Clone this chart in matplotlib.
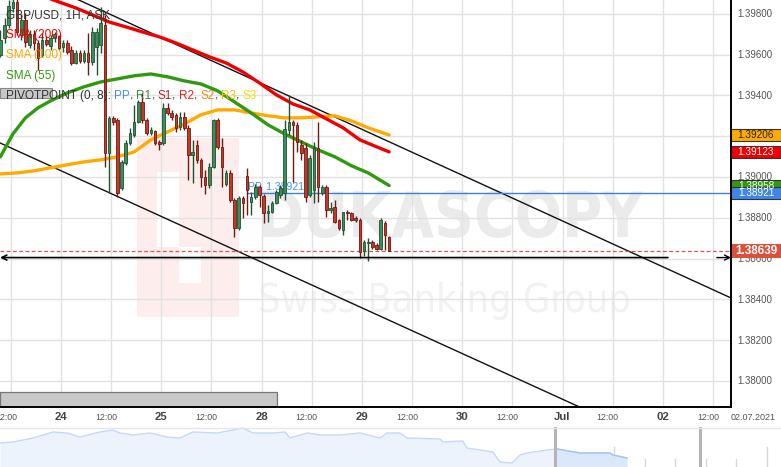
import numpy as np
import matplotlib
matplotlib.use("Agg")
import matplotlib.pyplot as plt
from matplotlib.patches import Rectangle
from matplotlib.transforms import blended_transform_factory, Affine2D
from matplotlib import font_manager

plt.rcParams['font.family'] = ['Liberation Sans', 'DejaVu Sans']

# ---------------- data ----------------
# hourly candles, GBP/USD 1H ASK; hour axis counted from 24 Jun 00:00 with weekend removed
first_candle_hour = -14.5

opens = [
    1.39599, 1.39682, 1.39746, 1.39829, 1.39858, 1.39697, 1.39770, 1.39648, 1.39701, 1.39657,
    1.39599, 1.39672, 1.39643, 1.39682, 1.39692, 1.39638, 1.39657, 1.39623, 1.39559, 1.39608,
    1.39569, 1.39608, 1.39564, 1.39638, 1.39648,
    1.39746, 1.39118, 1.39290, 1.39280, 1.38947, 1.39069, 1.39167, 1.39207, 1.39270, 1.39368,
    1.39280, 1.39216, 1.39226, 1.39172, 1.39167, 1.39339, 1.39314, 1.39305, 1.39246, 1.39295,
    1.39241, 1.39109, 1.39158, 1.39084, 1.39001, 1.38962, 1.39050, 1.39280, 1.39148, 1.38966,
    1.39020, 1.38888, 1.38751, 1.38898, 1.39006, 1.38878, 1.38903, 1.38952, 1.38908, 1.38824,
    1.38829, 1.38873, 1.38912, 1.38922, 1.39231, 1.39270, 1.39256, 1.39158, 1.39143, 1.38912,
    1.38937, 1.39143, 1.38922, 1.38952, 1.38839, 1.38854, 1.38790, 1.38741, 1.38829, 1.38824,
    1.38800, 1.38790, 1.38638, 1.38677, 1.38682, 1.38668, 1.38648, 1.38775, 1.38707]
highs = [
    1.39721, 1.39780, 1.39868, 1.39880, 1.39880, 1.39799, 1.39804, 1.39721, 1.39721, 1.39672,
    1.39706, 1.39692, 1.39697, 1.39711, 1.39697, 1.39672, 1.39672, 1.39643, 1.39623, 1.39623,
    1.39623, 1.39706, 1.39736, 1.39731, 1.39834,
    1.39795, 1.39300, 1.39300, 1.39290, 1.39084, 1.39182, 1.39241, 1.39354, 1.39378, 1.39412,
    1.39290, 1.39246, 1.39231, 1.39182, 1.39363, 1.39363, 1.39329, 1.39314, 1.39319, 1.39319,
    1.39256, 1.39182, 1.39182, 1.39094, 1.39035, 1.39069, 1.39285, 1.39290, 1.39192, 1.39035,
    1.39035, 1.38898, 1.38908, 1.38908, 1.39045, 1.38927, 1.38966, 1.38962, 1.38917, 1.38864,
    1.38883, 1.38937, 1.38962, 1.39280, 1.39403, 1.39280, 1.39270, 1.39182, 1.39167, 1.39109,
    1.39172, 1.39270, 1.38962, 1.38962, 1.38878, 1.38888, 1.38795, 1.38829, 1.38839, 1.38829,
    1.38810, 1.38800, 1.38692, 1.38702, 1.38692, 1.38677, 1.38800, 1.38785, 1.38712]
lows = [
    1.39589, 1.39657, 1.39731, 1.39809, 1.39697, 1.39672, 1.39638, 1.39633, 1.39623, 1.39525,
    1.39589, 1.39643, 1.39623, 1.39662, 1.39623, 1.39613, 1.39603, 1.39550, 1.39554, 1.39559,
    1.39559, 1.39501, 1.39550, 1.39501, 1.39608,
    1.39050, 1.38922, 1.39256, 1.38903, 1.38937, 1.39060, 1.39158, 1.39197, 1.39265, 1.39265,
    1.39207, 1.39207, 1.39158, 1.39133, 1.39158, 1.39305, 1.39280, 1.39221, 1.39231, 1.39231,
    1.38986, 1.38971, 1.39069, 1.38952, 1.38917, 1.38947, 1.39045, 1.39138, 1.38952, 1.38957,
    1.38878, 1.38707, 1.38741, 1.38800, 1.38815, 1.38815, 1.38893, 1.38854, 1.38775, 1.38780,
    1.38824, 1.38868, 1.38898, 1.38888, 1.39207, 1.38976, 1.39123, 1.39084, 1.38878, 1.38903,
    1.38873, 1.38878, 1.38912, 1.38805, 1.38824, 1.38775, 1.38741, 1.38717, 1.38790, 1.38785,
    1.38780, 1.38604, 1.38614, 1.38589, 1.38648, 1.38643, 1.38643, 1.38643, 1.38638]
closes = [
    1.39672, 1.39746, 1.39839, 1.39858, 1.39711, 1.39770, 1.39662, 1.39701, 1.39657, 1.39584,
    1.39672, 1.39652, 1.39682, 1.39701, 1.39633, 1.39657, 1.39613, 1.39559, 1.39608, 1.39569,
    1.39608, 1.39564, 1.39711, 1.39711, 1.39755,
    1.39118, 1.39290, 1.39270, 1.38922, 1.39074, 1.39167, 1.39216, 1.39270, 1.39368, 1.39280,
    1.39216, 1.39231, 1.39167, 1.39162, 1.39339, 1.39314, 1.39295, 1.39241, 1.39295, 1.39241,
    1.39109, 1.39123, 1.39084, 1.39001, 1.38962, 1.39050, 1.39280, 1.39148, 1.39050, 1.39020,
    1.38888, 1.38751, 1.38898, 1.38873, 1.38937, 1.38903, 1.38952, 1.38912, 1.38824, 1.38834,
    1.38873, 1.38927, 1.38947, 1.39236, 1.39270, 1.39256, 1.39172, 1.39118, 1.38903, 1.39094,
    1.39143, 1.38952, 1.38952, 1.38839, 1.38849, 1.38780, 1.38751, 1.38829, 1.38824, 1.38790,
    1.38790, 1.38633, 1.38682, 1.38682, 1.38658, 1.38648, 1.38790, 1.38717, 1.38639]

# moving averages (value read at candle index)
sma200_idx = [12, 14, 18, 22, 26, 30, 34, 38, 42, 46, 50, 54, 58, 62, 66, 70, 74, 78, 82, 86, 90, 93]
sma200 = [1.39873, 1.39858, 1.39829, 1.39795, 1.39760, 1.39736, 1.39711, 1.39687, 1.39657, 1.39623,
          1.39589, 1.39559, 1.39515, 1.39461, 1.39403, 1.39358, 1.39329, 1.39285, 1.39241, 1.39182,
          1.39148, 1.39123]
sma100_idx = [0, 4, 8, 12, 16, 20, 24, 28, 32, 36, 40, 44, 48, 52, 56, 60, 64, 68, 72, 76, 80, 84, 88, 93]
sma100 = [1.39015, 1.39020, 1.39030, 1.39045, 1.39060, 1.39074, 1.39084, 1.39099, 1.39123, 1.39182,
          1.39221, 1.39260, 1.39305, 1.39329, 1.39329, 1.39314, 1.39300, 1.39290, 1.39290, 1.39295,
          1.39300, 1.39275, 1.39241, 1.39206]
sma55_idx = [0, 3, 6, 9, 12, 16, 20, 24, 28, 32, 36, 40, 44, 48, 52, 56, 60, 64, 68, 72, 76, 80, 84, 88, 93]
sma55 = [1.39099, 1.39211, 1.39290, 1.39339, 1.39373, 1.39412, 1.39442, 1.39466, 1.39481, 1.39496,
         1.39505, 1.39491, 1.39471, 1.39456, 1.39422, 1.39368, 1.39314, 1.39256, 1.39211, 1.39172,
         1.39133, 1.39099, 1.39055, 1.39020, 1.38958]

pivot_pp = 1.38921
pp_start_hour = 44.5
last_price = 1.38639
arrow_level = 1.38605
arrow_left_span = [-14.6, 145.2]
arrow_right_span = [156.9, 160.3]
channel_upper_h = [4.0, 160.3]
channel_upper_p = [1.39870, 1.38407]
channel_lower_h = [-14.6, 124.0]
channel_lower_p = [1.39167, 1.37873]
weekend_bar_h = [-14.6, 51.7]

price_tags = [  # value, box colour, text colour
    (1.39206, '#ffaa00', '#222222'),
    (1.39123, '#f00000', '#ffffff'),
    (1.38958, '#2f9a0f', '#ffffff'),
    (1.38921, '#3f86e8', '#ffffff'),
]

xtick_hours = [-12, 0, 12, 24, 36, 48, 60, 72, 84, 96, 108, 120, 132, 144, 156]
xtick_labels = ['12:00', '24', '12:00', '25', '12:00', '28', '12:00', '29', '12:00', '30',
                '12:00', 'Jul', '12:00', '02', '12:00']
ytick_values = [1.380, 1.382, 1.384, 1.386, 1.388, 1.390, 1.392, 1.394, 1.396, 1.398]
ytick_labels = ['1.38000', '1.38200', '1.38400', '1.38600', '1.38800', '1.39000', '1.39200',
                '1.39400', '1.39600', '1.39800']
date_label = '02.07.2021'

nav_x = [0, 13, 33, 53, 67, 80, 100, 113, 120, 133, 150, 167, 180, 193, 217, 233, 243, 253, 273, 285,
         290, 307, 320, 340, 360, 380, 387, 400, 407, 440, 443, 463, 467, 480, 493, 500, 512, 520, 527, 547,
         557, 580, 610, 613, 627]
nav_h = [24, 25, 29, 35, 34, 30, 35, 37, 34, 32, 34, 30, 29, 35, 34, 37, 39, 34, 34, 35,
         29, 34, 32, 32, 34, 29, 34, 34, 29, 28, 25, 26, 19, 17, 15, 5, 4, 12, 14, 17,
         18, 14, 14, 12, 9]
nav_split = 555
nav_separators = [555, 700]

# ---------------- figure ----------------
W, H = 781, 467
fig = plt.figure(figsize=(W / 100, H / 100), dpi=100)
fig.patch.set_facecolor('white')
pix = Affine2D().scale(1, -1).translate(0, H)   # pixel coords, origin top-left

ax = fig.add_axes([0, 60 / H, 731 / W, 407 / H])
ax.set_xlim(-14.59, 160.29)
ax.set_ylim(1.378725, 1.398676)
ax.set_facecolor('white')
for s in ['top', 'left']:
    ax.spines[s].set_visible(False)
for s in ['right', 'bottom']:
    ax.spines[s].set_color('black')
    ax.spines[s].set_linewidth(1.4)
    ax.spines[s].set_zorder(20)
ax.set_xticks([])
ax.set_yticks([])

# grid
for v in ytick_values:
    ax.axhline(v, color='#e2e2e2', lw=1, zorder=1)
for hh in xtick_hours:
    ax.axvline(hh, color='#e2e2e2', lw=1, zorder=1)

# watermark logo (pink) and text
ax.add_patch(Rectangle((137, 138), 102, 179, transform=pix, facecolor='#fdeded', edgecolor='none', zorder=0.3, clip_on=False))
ax.add_patch(Rectangle((157, 172), 22, 75, transform=pix, facecolor='white', edgecolor='none', zorder=0.31, clip_on=False))
ax.add_patch(Rectangle((179, 247), 22, 36, transform=pix, facecolor='white', edgecolor='none', zorder=0.31, clip_on=False))

names = {f.name for f in font_manager.fontManager.ttflist}
wm_family = ['Liberation Sans Narrow', 'DejaVu Sans'] if 'Liberation Sans Narrow' in names else ['DejaVu Sans']
renderer = fig.canvas.get_renderer()


def fit_width(t, target):
    w = t.get_window_extent(renderer).width
    t.set_fontsize(t.get_fontsize() * target / w)


t1 = ax.text(258, 237, 'DUKASCOPY', transform=pix, fontsize=60, fontweight='bold', color='#ebebeb',
             family=wm_family, fontstretch='condensed', ha='left', va='baseline', zorder=0.5, clip_on=False)
fit_width(t1, 386)
t2 = ax.text(258, 312, 'Swiss Banking Group', transform=pix, fontsize=40, color='#f2f2f2',
             family=wm_family, fontstretch='condensed', ha='left', va='baseline', zorder=0.5, clip_on=False)
fit_width(t2, 372)

# weekend / session bar
bt = blended_transform_factory(ax.transData, ax.transAxes)
ax.add_patch(Rectangle((weekend_bar_h[0], 0), weekend_bar_h[1] - weekend_bar_h[0], 15 / 407, transform=bt,
                       facecolor='#c8c8c8', edgecolor='#777777', lw=0.9, zorder=2))

# channel lines
ax.plot(channel_upper_h, channel_upper_p, color='#111111', lw=1.0, zorder=3)
ax.plot(channel_lower_h, channel_lower_p, color='#111111', lw=1.0, zorder=3)

# pivot point
ax.plot([pp_start_hour, 160.3], [pivot_pp, pivot_pp], color='#3f7fe0', lw=1.0, zorder=3)
ax.text(pp_start_hour + 0.3, pivot_pp + 0.00008, 'PP, 1.38921', color='#4a8fe7', fontsize=7.5,
        va='bottom', ha='left', zorder=3.2)

# current price dashed
ax.axhline(last_price, color='#d9534f', lw=0.9, ls=(0, (3, 2)), zorder=3.5)

# arrow line
ax.annotate('', xy=(arrow_left_span[0], arrow_level), xytext=(arrow_left_span[1], arrow_level),
            arrowprops=dict(arrowstyle='->', color='black', lw=1.2, shrinkA=0, shrinkB=0, mutation_scale=9),
            zorder=6, annotation_clip=False)
ax.annotate('', xy=(arrow_right_span[1], arrow_level), xytext=(arrow_right_span[0], arrow_level),
            arrowprops=dict(arrowstyle='->', color='black', lw=1.0, shrinkA=0, shrinkB=0, mutation_scale=9),
            zorder=6, annotation_clip=False)

# moving averages
first = first_candle_hour
ax.plot(first + np.array(sma100_idx), sma100, color='#ffaa00', lw=2.4, zorder=4, solid_capstyle='round')
ax.plot(first + np.array(sma200_idx), sma200, color='#f00000', lw=2.4, zorder=4, solid_capstyle='round')
ax.plot(first + np.array(sma55_idx), sma55, color='#2f9a0f', lw=2.4, zorder=4, solid_capstyle='round')

# candles
o = np.array(opens); c = np.array(closes); hi = np.array(highs); lo = np.array(lows)
x = first + np.arange(len(o))
up = c >= o
wick_col = np.where(up, '#1f5230', '#6e1a12')
body_col = np.where(up, '#3d8c5c', '#c23b2a')
ax.vlines(x, lo, hi, colors=wick_col, lw=1.0, zorder=5)
ax.bar(x, np.maximum(np.abs(c - o), 0.00003), bottom=np.minimum(o, c), width=0.62,
       color=body_col, edgecolor=wick_col, linewidth=0.6, zorder=5.5)

# right axis labels
for v, lab in zip(ytick_values, ytick_labels):
    ax.text(737, 381 - (v - 1.38) * 20400 + 0.5, lab, transform=pix, fontsize=7, color='#555555',
            ha='left', va='center', clip_on=False, zorder=10)

bf = blended_transform_factory(fig.transFigure, ax.transData)
box_h = 12 / 20400
for v, fc, tc in price_tags:
    ax.add_patch(Rectangle((731 / W, v - box_h / 2), 50 / W, box_h, transform=bf, facecolor=fc,
                           edgecolor='#333333', lw=0.8, clip_on=False, zorder=11))
    ax.text(756 / W, v, f'{v:.5f}', transform=bf, fontsize=7.2, color=tc, ha='center', va='center',
            clip_on=False, zorder=12)
cur_h = 14 / 20400
ax.add_patch(Rectangle((731 / W, last_price - cur_h / 2), 50 / W, cur_h, transform=bf, facecolor='#dc503c',
                       edgecolor='none', clip_on=False, zorder=13))
ax.text(756 / W, last_price, f'{last_price:.5f}', transform=bf, fontsize=8.4, fontweight='bold',
        color='white', ha='center', va='center', clip_on=False, zorder=14)

# bottom time labels (half-day labels sit slightly left of their grid line, as in the source)
for hh, lab in zip(xtick_hours, xtick_labels):
    big = lab != '12:00'
    ax.text(hh if big else hh - 1.2, -10 / 407, lab, transform=bt, fontsize=8.2 if big else 6.3,
            fontweight='bold' if big else 'normal', color='#444444' if big else '#555555',
            ha='center', va='center', clip_on=False)
ax.text(753, 417, date_label, transform=pix, fontsize=6.5, color='#555555', ha='center', va='center',
        clip_on=False)

# legend block
fig.text(6 / W, 1 - 15 / H, 'GBP/USD, 1H, ASK', fontsize=8.5, color='#333333', va='center', ha='left', zorder=30)
fig.text(6 / W, 1 - 35 / H, 'SMA (200)', fontsize=8.5, color='#f00000', va='center', ha='left', zorder=30)
fig.text(6 / W, 1 - 55 / H, 'SMA (100)', fontsize=8.5, color='#ffaa00', va='center', ha='left', zorder=30)
fig.text(6 / W, 1 - 76 / H, 'SMA (55)', fontsize=8.5, color='#2f9a0f', va='center', ha='left', zorder=30)
fig.patches.append(Rectangle((0, 1 - 98 / H), 52 / W, 10 / H, transform=fig.transFigure,
                             facecolor='#c8c8c8', edgecolor='#888888', lw=0.8, zorder=29))
tokens = [('PIVOTPOINT (0, 8): ', '#333333'), ('PP', '#4a8fe7'), (', ', '#333333'),
          ('R1', '#3a8a3a'), (', ', '#333333'), ('S1', '#b02828'), (', ', '#333333'),
          ('R2', '#ee2020'), (', ', '#333333'), ('S2', '#f08a24'), (', ', '#333333'),
          ('R3', '#f2c200'), (', ', '#333333'), ('S3', '#f0e400')]
xp = 6
for s, col in tokens:
    t = fig.text(xp / W, 1 - 96 / H, s, fontsize=8.5, color=col, va='center', ha='left', zorder=30)
    xp += t.get_window_extent(renderer).width

# navigator panel
ax2 = fig.add_axes([0, 0, 1, 40 / H])
ax2.set_xlim(0, W)
ax2.set_ylim(0, 40)
ax2.axis('off')
nx = np.array(nav_x); nh = np.array(nav_h)
ax2.fill_between(nx, 0, nh, color='#edf3fc', lw=0, zorder=1)
ax2.plot(nx, nh, color='#c5d8f4', lw=1, zorder=2)
clip = Rectangle((nav_split, 0), W - nav_split, 40, transform=ax2.transData)
f2 = ax2.fill_between(nx, 0, nh, color='#dbe7fa', lw=0, zorder=1.5)
f2.set_clip_path(clip)
l2, = ax2.plot(nx, nh, color='#a6c3ef', lw=1, zorder=2.5)
l2.set_clip_path(clip)
for j in range(26):
    xx = 2 + 30.6 * j
    ax2.plot([xx, xx], [0, 20 if j % 5 == 0 else 8], color='#d8d8d8', lw=1, zorder=0.5)
for sx in nav_separators:
    ax2.plot([sx, sx], [0, 40], color='#b4b4b4', lw=2.2, zorder=3)
ax2.plot([0, W], [39.5, 39.5], color='#e6e6e6', lw=1, zorder=3)

fig.savefig('out.png', dpi=100, facecolor='white')
